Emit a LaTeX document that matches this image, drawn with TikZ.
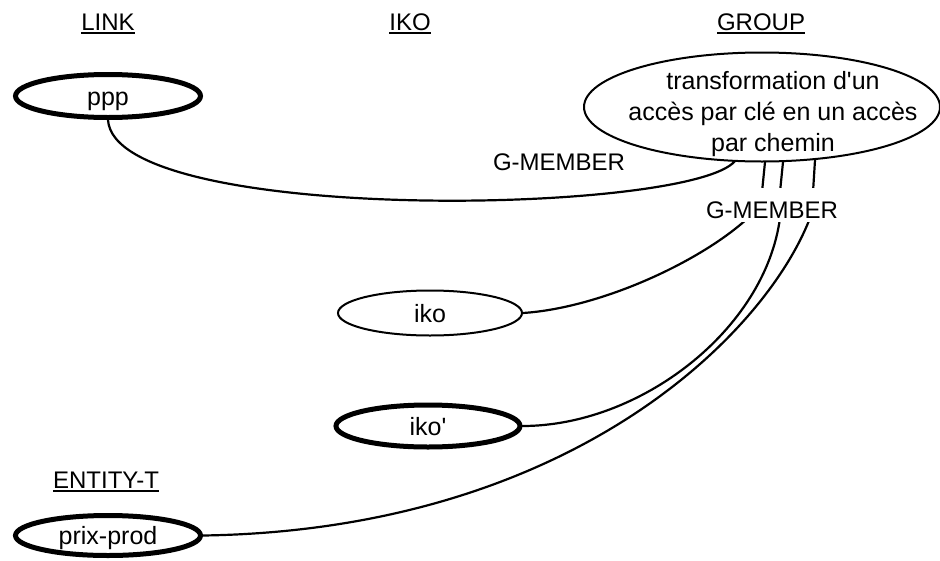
\documentclass[tikz,border=0pt]{standalone}
\usepackage{fontspec}
\setmainfont{Liberation Sans}[Ligatures=TeXOff]
\usetikzlibrary{shapes.geometric}
% underlined heading: rule set a little below the baseline
\newcommand{\hdrline}[1]{\vtop{\hbox{#1}\kern1.8pt\hrule height 1.8pt}}
\begin{document}
\begin{tikzpicture}[x=1pt,y=-1pt,
  every node/.style={font=\fontsize{25}{31}\selectfont},
  concept/.style={draw, ellipse, inner sep=0pt, text height=18pt, text depth=0pt, line width=2pt},
  heavy/.style={concept, line width=5pt},
  heading/.style={anchor=base, inner sep=0pt, font=\fontsize{24}{30}\selectfont},
  role/.style={font=\fontsize{24}{30}\selectfont, inner sep=0pt},
  link/.style={line width=2.2pt, line join=round, line cap=round}]

\fill[white] (0,0) rectangle (940,560);
\useasboundingbox (0,0) rectangle (940,560);

% class headings
\node[heading] (hlink)   at (108,30)  {\hdrline{LINK}};
\node[heading] (hiko)    at (410,30)  {\hdrline{IKO}};
\node[heading] (hgroup)  at (761,30)  {\hdrline{GROUP}};
\node[heading] (hentity) at (106,488) {\hdrline{ENTITY-T}};

% instances
\node[heavy, minimum width=185pt, minimum height=43pt] (ppp)  at (108,96)  {ppp};
\node[concept, minimum width=184pt, minimum height=45pt] (iko) at (430,313) {iko};
\node[heavy, minimum width=184pt, minimum height=42pt] (ikop) at (428,426) {iko'};
\node[heavy, minimum width=185pt, minimum height=40pt] (prix) at (108,535.5) {prix-prod};

\node[draw, ellipse, line width=2pt, inner sep=0pt, minimum width=356pt, minimum height=109pt] (grp) at (762,107) {};
\node[align=center, inner sep=0pt] (grptext) at (773,114.5)
  {transformation d'un\\accès par clé en un accès\\par chemin};

% attachment points on the group
\coordinate (g0) at (735,161);
\coordinate (g1) at (765,162);
\coordinate (g2) at (783,162);
\coordinate (g3) at (815,160);

% members passing under the shared label
\coordinate (m1) at (748,218);  \coordinate (n1) at (762,192);
\coordinate (m2) at (780,218);  \coordinate (n2) at (780,192);
\coordinate (m3) at (810,218);  \coordinate (n3) at (813,192);

\draw[link] (ppp.south) .. controls (115,225) and (690,215) .. (g0);
\draw[link] (iko.east)  .. controls (600,308) and (700,262) .. (m1) -- (n1) -- (g1);
\draw[link] (ikop.east) .. controls (640,426) and (765,330) .. (m2) -- (n2) -- (g2);
\draw[link] (prix.east) .. controls (570,530) and (765,335) .. (m3) -- (n3) -- (g3);

% role labels
\node[role] (gm1) at (559,162) {G-MEMBER};
\node[role, fill=white, anchor=base, inner xsep=6pt, text height=30pt, text depth=4pt] (gm2) at (772,218) {G-MEMBER};

\end{tikzpicture}
\end{document}
